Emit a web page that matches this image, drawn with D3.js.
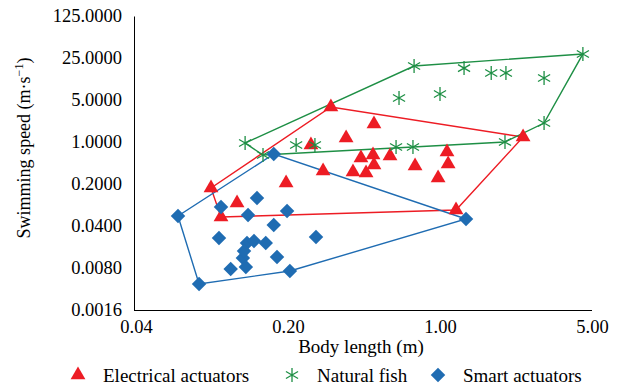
<!DOCTYPE html>
<meta charset="utf-8">
<style>
body { margin: 0; background: #fff; }
.hull { fill: none; stroke-width: 1.4; }
</style>
<script src="https://d3js.org/d3.v7.min.js"></script>
<body>
<svg id="chart" width="619" height="390"></svg>
<script>
// body length (m) and swimming speed (m/s)
var electricalLength = [0.0885, 0.0984, 0.1166, 0.196, 0.255, 0.290, 0.315, 0.370, 0.497, 0.433, 0.492,
  0.497, 0.398, 0.457, 0.589, 0.768, 1.077, 1.09, 0.98, 1.185, 2.41];
var electricalSpeed = [0.1715, 0.0565, 0.0965, 0.208, 0.891, 0.329, 3.82, 1.165, 1.99, 0.542, 0.607,
  0.414, 0.317, 0.305, 0.585, 0.399, 0.682, 0.430, 0.252, 0.0739, 1.21];

var fishLength = [0.127, 0.1535, 0.218, 0.266, 0.628, 0.751, 0.648, 1.0, 0.760, 1.29, 1.72, 2.01,
  3.01, 3.01, 4.54, 1.99];
var fishSpeed = [0.962, 0.607, 0.891, 0.891, 0.825, 0.825, 5.39, 6.29, 18.4, 17.0, 14.1, 14.1,
  11.6, 2.07, 29.2, 1.0];

var smartLength = [0.0624, 0.078, 0.0984, 0.144, 0.131, 0.198, 0.172, 0.0963, 0.269, 0.1296, 0.1395,
  0.158, 0.124, 0.178, 0.128, 0.109, 0.204, 0.172, 1.317, 0.1255];
var smartSpeed = [0.0587, 0.00433, 0.0829, 0.117, 0.061, 0.071, 0.0416, 0.0253, 0.0262, 0.0208, 0.0225,
  0.0208, 0.01174, 0.0122, 0.0083, 0.0077, 0.00713, 0.631, 0.0523, 0.0153];

var xTicks = [0.04, 0.2, 1, 5];
var yTicks = [0.0016, 0.008, 0.04, 0.2, 1, 5, 25, 125];

var series = [
  { name: "Electrical actuators", color: "#ed1c24", shape: "triangle", xs: electricalLength, ys: electricalSpeed },
  { name: "Natural fish", color: "#1e8f45", shape: "star", xs: fishLength, ys: fishSpeed },
  { name: "Smart actuators", color: "#1f6cb2", shape: "diamond", xs: smartLength, ys: smartSpeed }
];

var serif = "Liberation Serif";
var svg = d3.select("#chart");

var x = d3.scaleLog().domain([0.04, 5]).range([136, 592]);
var y = d3.scaleLog().domain([0.0016, 125]).range([310, 16]);

// axes
var xAxis = svg.append("g").attr("transform", "translate(0,310)")
  .call(d3.axisBottom(x).tickValues(xTicks).tickFormat(d3.format(".2f")).tickSize(0).tickPadding(10));
var yAxis = svg.append("g").attr("transform", "translate(134,0)")
  .call(d3.axisLeft(y).tickValues(yTicks).tickFormat(d3.format(".4f")).tickSize(0).tickPadding(12));
[xAxis, yAxis].forEach(function(a) {
  a.select(".domain").attr("stroke", "#000");
  a.selectAll("text").style("font-family", serif).style("font-size", "18.5px").attr("fill", "#000");
});
xAxis.select(".domain").attr("d", "M134,0.5H592");

svg.append("text").attr("x", 361).attr("y", 353).attr("text-anchor", "middle")
  .style("font-family", serif).style("font-size", "19px").text("Body length (m)");
svg.append("text").attr("transform", "translate(30,148) rotate(-90)").attr("text-anchor", "middle")
  .style("font-family", serif).style("font-size", "18px")
  .html("Swimming speed (m·s<tspan dy='-7' style='font-size:12px'>−1</tspan><tspan dy='7'>)</tspan>");

function markerPath(shape) {
  if (shape == "triangle") return d3.symbol().type(d3.symbolTriangle).size(95)();
  if (shape == "diamond") return d3.symbol().type(d3.symbolSquare).size(105)();
  var r = 7, p = "";
  [90, 30, 150].forEach(function(a) {
    var dx = r * Math.cos(a * Math.PI / 180), dy = r * Math.sin(a * Math.PI / 180);
    p += "M" + (-dx) + "," + (-dy) + "L" + dx + "," + dy;
  });
  return p;
}

function drawMarker(g, shape, color, px, py) {
  var m = g.append("path").attr("d", markerPath(shape));
  if (shape == "star") {
    m.attr("fill", "none").attr("stroke", color).attr("stroke-width", 1.3)
      .attr("transform", "translate(" + px + "," + py + ")");
  } else if (shape == "diamond") {
    m.attr("fill", color).attr("transform", "translate(" + px + "," + py + ") rotate(45)");
  } else {
    m.attr("fill", color).attr("transform", "translate(" + px + "," + py + ")");
  }
}

// hull outlines around each group
series.forEach(function(s) {
  var pts = s.xs.map(function(v, i) { return [x(v), y(s.ys[i])]; });
  var hull = d3.polygonHull(pts);
  svg.append("path").attr("class", "hull").attr("stroke", s.color)
    .attr("d", "M" + hull.join("L") + "Z");
});

series.forEach(function(s) {
  var g = svg.append("g");
  s.xs.forEach(function(v, i) {
    drawMarker(g, s.shape, s.color, x(v), y(s.ys[i]));
  });
});

// legend
var legendX = [78, 292, 438];
series.forEach(function(s, i) {
  var g = svg.append("g");
  drawMarker(g, s.shape, s.color, legendX[i], 375);
  g.append("text").attr("x", legendX[i] + 25).attr("y", 382)
    .style("font-family", serif).style("font-size", "19px").text(s.name);
});
</script>
</body>
